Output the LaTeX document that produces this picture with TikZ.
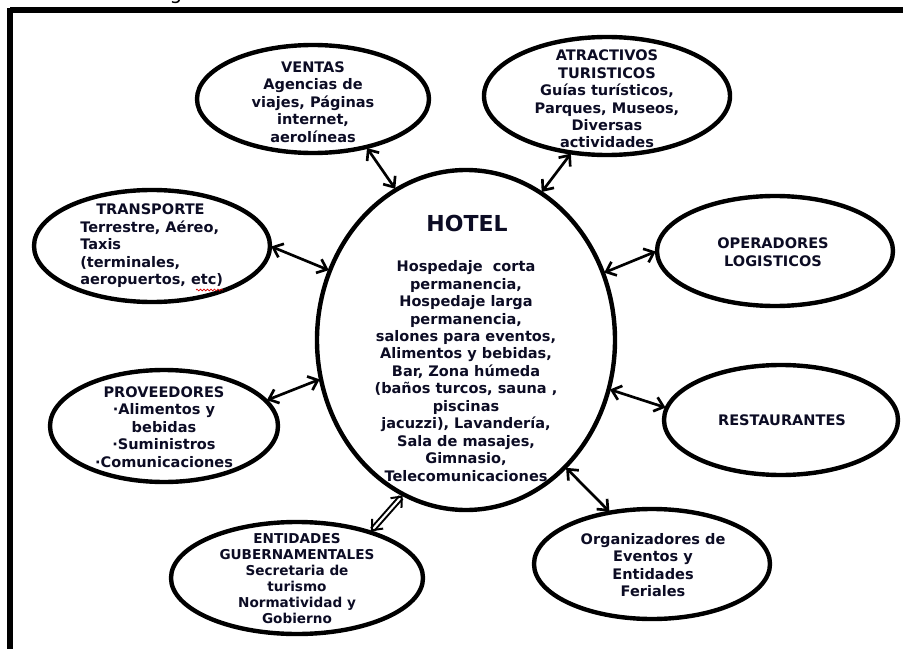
\documentclass[tikz,border=0pt]{standalone}
\usepackage{fontspec}
\setmainfont{DejaVu Sans}
\usetikzlibrary{shapes.geometric,arrows.meta,decorations.pathmorphing}
\definecolor{ink}{RGB}{12,12,36}
\tikzset{
  bub/.style={ellipse, draw=black, line width=3.3pt, inner sep=0pt, outer sep=0pt, fill=white},
  lbl/.style={text=ink, font=\bfseries\fontsize{10.9}{13.1}\selectfont, align=center, inner sep=0pt},
  link/.style={{Straight Barb[length=6.5pt,width=11pt]}-{Straight Barb[length=6.5pt,width=11pt]}, line width=2pt, black, shorten <=1pt, shorten >=1pt},
  frameline/.style={line width=3.8pt, black}
}
\begin{document}
\begin{tikzpicture}[x=0.75pt,y=-0.75pt]
\useasboundingbox (0,0) rectangle (903,649);
\clip (0,0) rectangle (903,649);

% caption fragment above the frame
\node[anchor=base, font=\fontsize{15}{15}\selectfont, inner sep=0pt] (capfrag) at (176,-0.5) {g};

% frame
\draw[frameline] (10,10) -- (903,10);
\draw[frameline] (10,8) -- (10,649);

% bubbles
\node[bub, minimum width=223.5pt, minimum height=255pt] (hotel) at (466,340) {};
\node[bub, minimum width=174pt, minimum height=81pt] (ventas) at (313,99) {};
\node[bub, minimum width=184.5pt, minimum height=88.5pt] (atract) at (607,96) {};
\node[bub, minimum width=177pt, minimum height=84pt] (transp) at (152,246) {};
\node[bub, minimum width=177pt, minimum height=82.5pt] (operad) at (775,251) {};
\node[bub, minimum width=175.5pt, minimum height=82.5pt] (restau) at (781,420) {};
\node[bub, minimum width=171pt, minimum height=84pt] (provee) at (164,426) {};
\node[bub, minimum width=189pt, minimum height=84pt] (entid) at (297,578) {};
\node[bub, minimum width=177pt, minimum height=82.5pt] (organ) at (652,564) {};

% texts
\node[lbl, font=\bfseries\fontsize{16.5}{18}\selectfont] (hoteltitle) at (467,223) {HOTEL};
\node[lbl] (hoteltext) at (466,371) {Hospedaje\ \ corta\\ permanencia,\\ Hospedaje larga\\ permanencia,\\ salones para eventos,\\ Alimentos y bebidas,\\ Bar, Zona húmeda\\ (baños turcos, sauna ,\\ piscinas\\ jacuzzi), Lavandería,\\ Sala de masajes,\\ Gimnasio,\\ Telecomunicaciones};
\node[lbl] (ventastext) at (313,102) {VENTAS\\ Agencias de\\ viajes, Páginas\\ internet,\\ aerolíneas};
\node[lbl] (atracttext) at (607,99) {ATRACTIVOS\\ TURISTICOS\\ Guías turísticos,\\ Parques, Museos,\\ Diversas\\ actividades};
\node[lbl, align=left, anchor=west] (transptext) at (80,246) {\hspace*{12pt}TRANSPORTE\\ Terrestre, Aéreo,\\ Taxis\\ (terminales,\\ aeropuertos, etc)};
\node[lbl] (operadtext) at (773,252) {OPERADORES\\ LOGISTICOS};
\node[lbl] (restautext) at (782,420) {RESTAURANTES};
\node[lbl] (proveetext) at (164,427) {PROVEEDORES\\ ·Alimentos y\\ bebidas\\ ·Suministros\\ ·Comunicaciones};
\node[lbl, font=\bfseries\fontsize{10.2}{12}\selectfont] (entidtext) at (297,579) {ENTIDADES\\ GUBERNAMENTALES\\ Secretaria de\\ turismo\\ Normatividad y\\ Gobierno};
\node[lbl] (organtext) at (653,565) {Organizadores de\\ Eventos y\\ Entidades\\ Feriales};

% spell-check squiggle under "etc"
\draw[red!85!black, line width=0.5pt, decorate, decoration={snake, amplitude=0.7pt, segment length=2.6pt}] (196,290) -- (223,290);

% connectors
\draw[link] (ventas.-42) -- (hotel.115);
\draw[link] (atract.238) -- (hotel.63);
\draw[link] (transp.0) -- (hotel.153);
\draw[link] (provee.14) -- (hotel.195);
\draw[link] (operad.180) -- (hotel.26);
\draw[link] (restau.174) -- (hotel.-19);
\draw[link] (organ.129) -- (hotel.-52);
\draw[link, line width=1.5pt, double distance=1.6pt] (entid.32) -- (hotel.248);
\end{tikzpicture}
\end{document}
